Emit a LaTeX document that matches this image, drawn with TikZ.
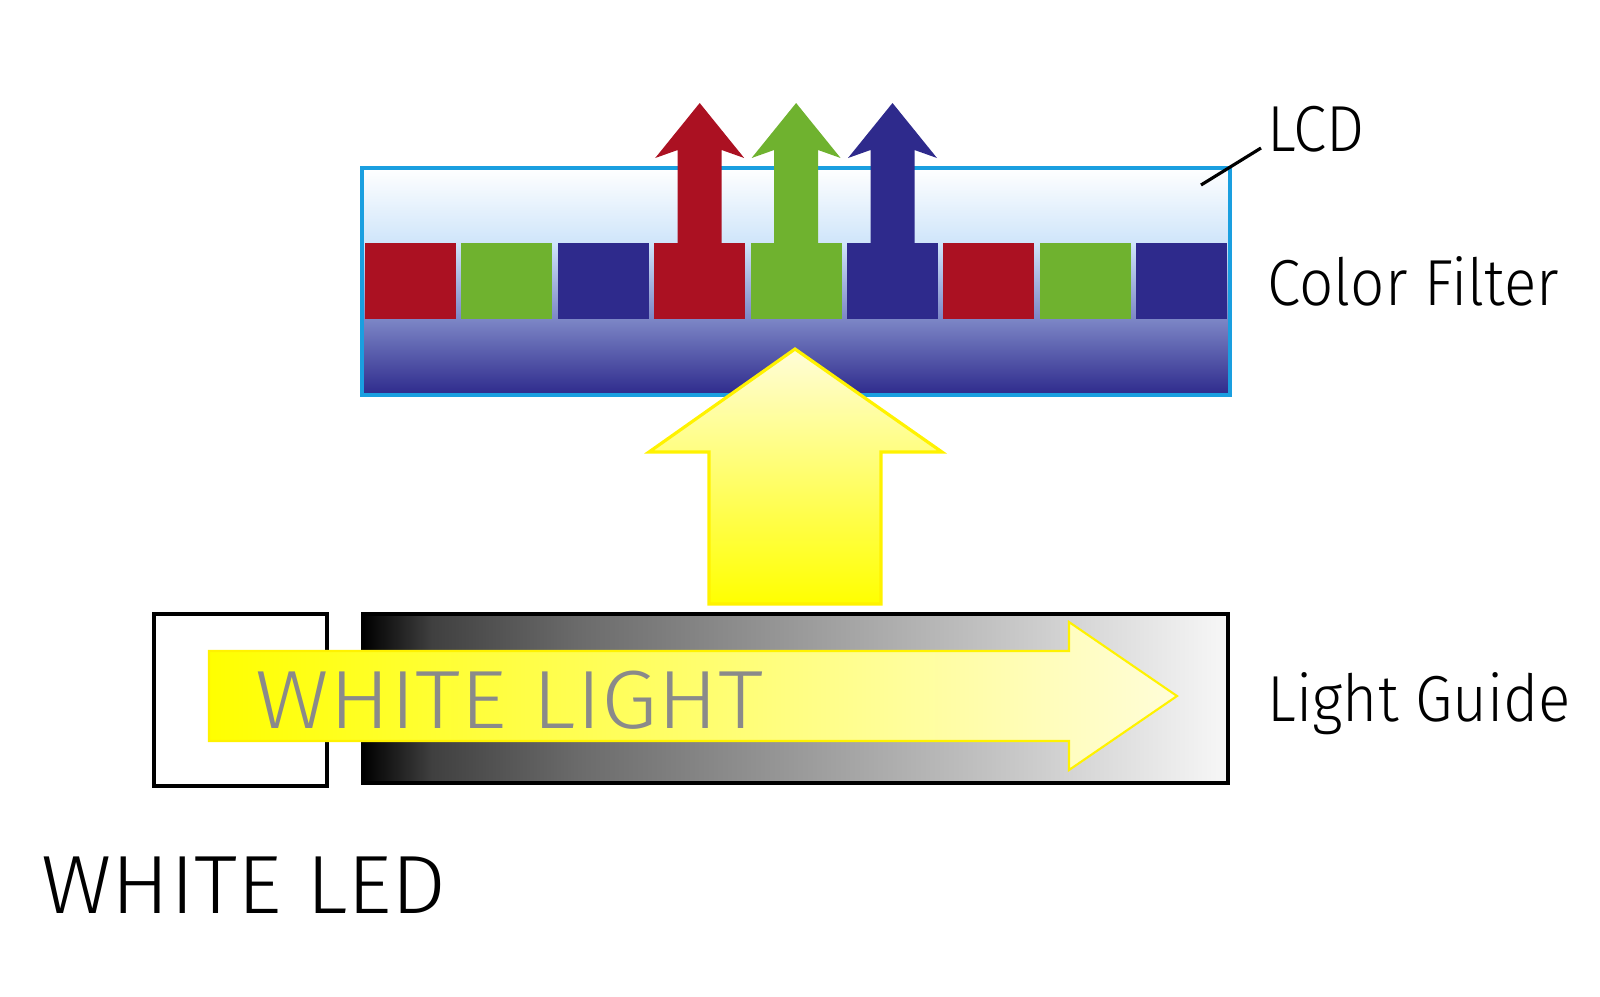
\documentclass[tikz,border=0pt]{standalone}
\usepackage{fontspec}
\setmainfont{Fira Sans}[UprightFont={* Light}, FakeStretch=0.925]
\newfontfamily\ledfont{Fira Sans}[UprightFont={* Light}, FakeStretch=1.05]
\newfontfamily\lightfont{Fira Sans}[UprightFont={* Light}, FakeStretch=1.1]
\definecolor{filterred}{HTML}{AB1122}
\definecolor{filtergreen}{HTML}{6FB22F}
\definecolor{filterblue}{HTML}{2E2A8C}
\definecolor{lcdedge}{HTML}{1A9FE0}
\definecolor{lcdlight}{HTML}{CFE5FA}
\definecolor{lcdmid}{HTML}{7C86C6}
\definecolor{lighttext}{HTML}{8A8A8A}
\definecolor{paleyellow}{HTML}{FFFDD8}
\pgfdeclarehorizontalshading{guideshade}{100bp}{color(0bp)=(black); color(25bp)=(black);
  color(29bp)=(black!75); color(37.5bp)=(black!58); color(50bp)=(black!40);
  color(62.5bp)=(black!22); color(75bp)=(black!3); color(100bp)=(black!3)}
\tikzset{
  sidetext/.style={anchor=base west, inner sep=0pt, font=\fontsize{18.5}{20}\selectfont},
  bigtext/.style={anchor=base west, inner sep=0pt},
  frame/.style={draw=black, line width=0.9pt},
}
\begin{document}
\begin{tikzpicture}[x=0.01cm, y=-0.01cm]
  \useasboundingbox (0,0) rectangle (1600,996);
  % LCD panel
  \shade[top color=white, bottom color=lcdlight] (362,168) rectangle (1230,243);
  \shade[top color=lcdlight, bottom color=lcdmid] (362,243) rectangle (1230,319);
  \shade[top color=lcdmid, bottom color=filterblue] (362,319) rectangle (1230,395);
  \draw[lcdedge, line width=0.9pt] (362,168) rectangle (1230,395);
  % color filter
  \foreach \c [count=\i from 0] in {filterred,filtergreen,filterblue,filterred,filtergreen,filterblue,filterred,filtergreen,filterblue}
    \fill[\c] (365+96.4*\i,243) rectangle ++(91,76);
  \foreach \c [count=\i from 3] in {filterred,filtergreen,filterblue}{
    \pgfmathsetmacro\cx{365+96.4*\i+45.5}
    \fill[\c] (\cx-22,245) -- (\cx-22,150) -- (\cx-44.5,158) -- (\cx,103)
      -- (\cx+44.5,158) -- (\cx+22,150) -- (\cx+22,245) -- cycle;
  }
  % backlight
  \shade[top color=paleyellow, bottom color=yellow, draw=yellow, line width=0.9pt]
    (709,604) -- (709,452) -- (649,452) -- (795,349) -- (942,452) -- (881,452) -- (881,604) -- cycle;
  \draw[frame] (154,614) rectangle (327,786);
  \shade[shading=guideshade] (363,614) rectangle (1228,783);
  \draw[frame] (363,614) rectangle (1228,783);
  \shade[left color=yellow, right color=paleyellow, draw=yellow, line width=0.6pt]
    (209,651) -- (1069,651) -- (1069,622) -- (1177,696) -- (1069,770) -- (1069,741) -- (209,741) -- cycle;
  \node[bigtext, text=lighttext, font=\lightfont\fontsize{23.5}{26}\selectfont] (lightlbl) at (255,728) {WHITE LIGHT};
  % labels
  \node[sidetext] (lcdlbl) at (1267,151) {LCD};
  \node[sidetext] (filterlbl) at (1267,305) {Color Filter};
  \node[sidetext] (guidelbl) at (1267,721) {Light Guide};
  \node[bigtext, font=\ledfont\fontsize{23.5}{26}\selectfont] (ledlbl) at (41,913) {WHITE LED};
  \coordinate (lcdpt) at (1201,185);
  \draw[line width=0.9pt] (lcdpt) -- ([shift={(-6,-3)}]lcdlbl.base west);
\end{tikzpicture}
\end{document}
